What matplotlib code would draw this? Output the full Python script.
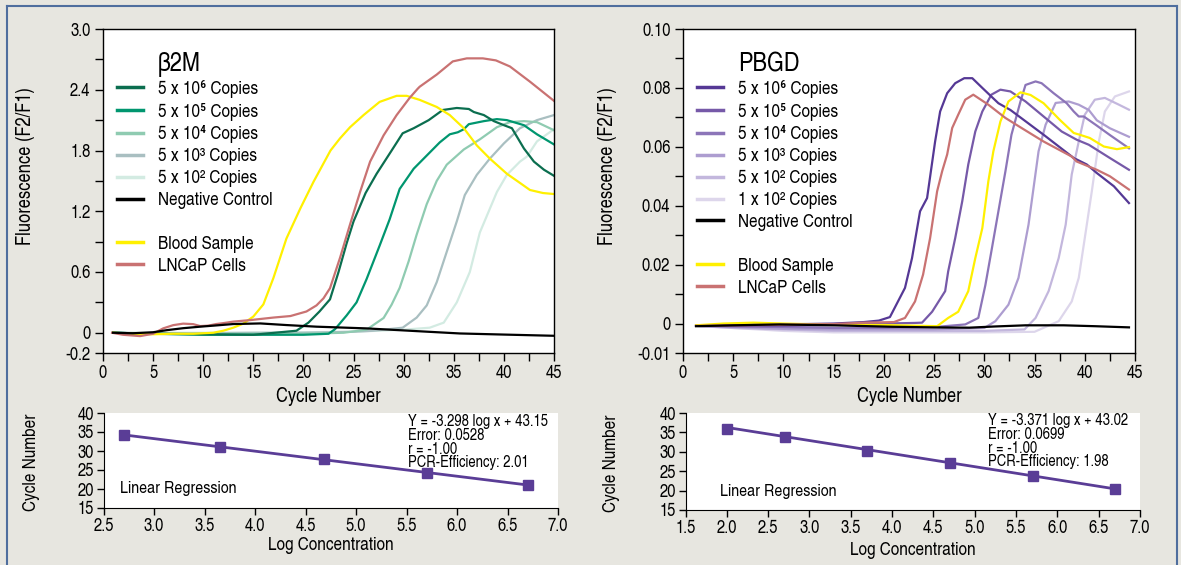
import matplotlib
matplotlib.use('Agg')
import matplotlib.pyplot as plt
from matplotlib.lines import Line2D
import numpy as np

FONT = ['TeX Gyre Heros Cn', 'Roboto Condensed', 'DejaVu Sans']
plt.rcParams['font.family'] = FONT

W, H = 1181, 565
BG = '#e7e6e0'
FRAME = '#4f6e9e'

# ---------------- beta2M (left) amplification curves ----------------
b_std_labels = ['5 x 10\u2076 Copies', '5 x 10\u2075 Copies', '5 x 10\u2074 Copies',
                '5 x 10\u00b3 Copies', '5 x 10\u00b2 Copies']
b_std_colors = ['#0b6e4f', '#00966f', '#8fcbb1', '#a9bfc1', '#d3ebe2']

b_5e6_cyc = [1, 5, 10, 15, 19.3, 20.5, 21.6, 22.65, 23.5, 24.3, 25.0, 26.2, 27.3, 28.8, 29.9, 31.0,
             32.5, 33.9, 35.3, 36.5, 37.0, 38.0, 39.0, 40.0, 40.8, 42.0, 43.0, 44.0, 45]
b_5e6_val = [0, -0.01, -0.015, -0.02, 0.02, 0.1, 0.21, 0.33, 0.6, 0.88, 1.1, 1.38, 1.57, 1.8, 1.97, 2.02,
             2.1, 2.2, 2.22, 2.21, 2.18, 2.15, 2.09, 2.05, 2.02, 1.82, 1.69, 1.61, 1.55]
b_5e5_cyc = [1, 5, 10, 15, 20, 22.5, 23.15, 24.3, 25.3, 26.3, 27.6, 28.6, 29.6, 31.0, 32.3, 33.6,
             34.6, 35.4, 36.0, 36.5, 38.0, 39.3, 40.3, 42.0, 43.3, 45]
b_5e5_val = [0, -0.01, -0.02, -0.02, -0.02, -0.01, 0.035, 0.17, 0.30, 0.53, 0.86, 1.12, 1.42, 1.62, 1.75, 1.88,
             1.96, 1.98, 2.01, 2.06, 2.09, 2.11, 2.10, 2.05, 1.96, 1.86]
b_5e4_cyc = [1, 5, 10, 15, 20, 24, 26.3, 28.0, 28.8, 29.6, 30.5, 31.3, 32.3, 33.3, 34.3, 36.0,
             37.6, 39.3, 40.6, 42.0, 43.3, 45]
b_5e4_val = [0, -0.01, -0.01, -0.01, -0.01, 0.0, 0.03, 0.146, 0.278, 0.443, 0.706, 0.97, 1.27, 1.50, 1.66, 1.81,
             1.91, 2.03, 2.08, 2.09, 2.08, 2.0]
b_5e3_cyc = [1, 5, 10, 15, 20, 25, 27, 29.9, 31.3, 32.3, 33.3, 34.3, 35.3, 36.1, 37.3, 38.6,
             40.0, 41.6, 43.3, 45]
b_5e3_val = [0, -0.005, -0.005, 0, 0, 0.01, 0.02, 0.05, 0.15, 0.27, 0.50, 0.80, 1.10, 1.36, 1.56, 1.72,
             1.87, 2.02, 2.10, 2.15]
b_5e2_cyc = [1, 5, 10, 15, 20, 25, 30, 32.6, 34.0, 35.3, 36.6, 37.6, 38.45, 39.3, 40.3, 41.6,
             42.3, 43.3, 45]
b_5e2_val = [0, 0, 0, 0, 0.005, 0.01, 0.03, 0.05, 0.10, 0.30, 0.60, 0.99, 1.19, 1.39, 1.56, 1.69,
             1.74, 1.89, 2.01]
b_neg_cyc = [1, 3, 5, 6.4, 8, 9.7, 11, 13, 15.7, 18.3, 21.3, 26.3, 31.3, 35.6, 40, 45]
b_neg_val = [0, -0.005, 0.005, 0.026, 0.045, 0.06, 0.07, 0.086, 0.092, 0.076, 0.06, 0.043, 0.016,
             -0.007, -0.018, -0.03]
b_blood_cyc = [1, 3, 5, 7, 9, 11, 12, 13, 14, 15, 16, 17, 18.3, 19.7, 21, 22.7, 23.65, 24.65, 26,
               27.6, 29.3, 30.3, 31.6, 33.3, 34.6, 36, 37.3, 38.6, 40.3, 41.6, 42.6, 43.9, 45]
b_blood_val = [0, -0.01, -0.015, -0.01, -0.01, 0, 0.02, 0.05, 0.09, 0.16, 0.28, 0.54, 0.93, 1.23, 1.49,
               1.8, 1.92, 2.03, 2.15, 2.28, 2.34, 2.34, 2.30, 2.23, 2.15, 2.02, 1.85, 1.72, 1.57,
               1.48, 1.41, 1.38, 1.37]
b_lncap_cyc = [0.9, 2, 3.7, 5, 6, 7, 8, 9, 9.7, 10.5, 11.3, 12, 13, 14.7, 17, 18.7, 20.3, 21.3, 22,
               22.65, 23.65, 24.65, 25.65, 26.65, 28, 29.3, 30.6, 31.4, 31.6, 33.3, 34.9, 36.3,
               37.9, 39.2, 40.6, 42.6, 45]
b_lncap_val = [0, -0.02, -0.033, -0.01, 0.043, 0.075, 0.09, 0.085, 0.066, 0.07, 0.086, 0.095, 0.11,
               0.125, 0.15, 0.165, 0.21, 0.27, 0.34, 0.44, 0.74, 1.07, 1.39, 1.69, 1.95, 2.15, 2.32,
               2.41, 2.43, 2.55, 2.68, 2.71, 2.71, 2.69, 2.63, 2.48, 2.29]

b_std_cyc = [b_5e6_cyc, b_5e5_cyc, b_5e4_cyc, b_5e3_cyc, b_5e2_cyc]
b_std_val = [b_5e6_val, b_5e5_val, b_5e4_val, b_5e3_val, b_5e2_val]

# ---------------- PBGD (right) amplification curves ----------------
p_std_labels = ['5 x 10\u2076 Copies', '5 x 10\u2075 Copies', '5 x 10\u2074 Copies',
                '5 x 10\u00b3 Copies', '5 x 10\u00b2 Copies', '1 x 10\u00b2 Copies']
p_std_colors = ['#553895', '#7659a8', '#8c75b8', '#ad9dd0', '#c3b7dd', '#ddd6eb']

p_5e6_cyc = [1.3, 5, 10, 15, 18, 19.5, 20.6, 22.1, 22.8, 23.6, 24.3, 25.1, 25.6, 26.3, 27.1, 28.0,
             28.8, 29.8, 31.4, 32.6, 35.9, 38.9, 40.2, 41.2, 42.9, 44.4]
p_5e6_val = [-0.0008, -0.0005, -0.0003, 0.0, 0.0005, 0.001, 0.0022, 0.0121, 0.0222, 0.0381, 0.0426,
             0.0618, 0.072, 0.0782, 0.0816, 0.0833, 0.0833, 0.080, 0.0748, 0.0725, 0.0641, 0.0562,
             0.054, 0.0511, 0.0466, 0.0409]
p_5e5_cyc = [1.3, 5, 10, 15, 20, 23, 23.8, 24.8, 26.1, 26.4, 27.1, 27.8, 28.4, 29.1, 29.8, 30.7,
             31.6, 32.6, 34.1, 35.9, 37.7, 39.2, 40.4, 42.5, 44.4]
p_5e5_val = [-0.0008, -0.0008, -0.0008, -0.0005, 0.0, 0.0002, 0.0003, 0.004, 0.011, 0.0177, 0.029,
             0.0415, 0.054, 0.0652, 0.072, 0.0777, 0.0794, 0.0788, 0.0754, 0.0703, 0.0652, 0.0624,
             0.0607, 0.0562, 0.0522]
p_5e4_cyc = [1.3, 5, 10, 15, 20, 25, 28.1, 29.4, 30.1, 30.7, 31.4, 32.1, 32.7, 33.6, 34.1, 35.1,
             35.7, 36.9, 38.2, 38.9, 39.4, 39.9, 41.2, 42.5, 44.4]
p_5e4_val = [-0.0008, -0.001, -0.0012, -0.0015, -0.0015, -0.0012, -0.0003, 0.0019, 0.013, 0.0245,
             0.0381, 0.0517, 0.0641, 0.0754, 0.081, 0.0822, 0.0816, 0.0782, 0.0748, 0.072, 0.0703,
             0.0703, 0.0672, 0.064, 0.0595]
p_5e3_cyc = [1.3, 5, 10, 15, 20, 25, 30, 31.1, 32.4, 33.4, 34.4, 35.4, 36.1, 37.1, 38.4, 39.4,
             40.4, 41.2, 42.5, 44.4]
p_5e3_val = [-0.0008, -0.0012, -0.0018, -0.002, -0.002, -0.002, -0.0015, 0.0008, 0.0064, 0.0155,
             0.0336, 0.0585, 0.0675, 0.0749, 0.0754, 0.0743, 0.0725, 0.069, 0.0663, 0.0634]
p_5e2_cyc = [1.3, 5, 10, 15, 20, 25, 30, 34, 35.1, 36.4, 37.4, 38.1, 38.7, 39.4, 40.0, 41.0, 42.0,
             43.4, 44.4]
p_5e2_val = [-0.0008, -0.0015, -0.002, -0.0025, -0.0025, -0.0025, -0.0025, -0.002, 0.0019, 0.011,
             0.0222, 0.0336, 0.0506, 0.0618, 0.0709, 0.076, 0.0766, 0.0743, 0.0726]
p_1e2_cyc = [1.3, 5, 10, 15, 20, 25, 30, 35, 37.4, 38.7, 39.4, 40.0, 40.7, 41.4, 42.0, 43.0, 44.4]
p_1e2_val = [-0.0008, -0.0015, -0.0025, -0.003, -0.003, -0.003, -0.003, -0.0028, 0.0008, 0.0075,
             0.0155, 0.029, 0.0449, 0.0618, 0.072, 0.0771, 0.0788]
p_neg_cyc = [1.3, 5, 9.6, 15, 20.9, 25, 28.5, 31, 34.1, 37.9, 41, 44.4]
p_neg_val = [-0.0009, -0.0006, -0.0003, -0.0006, -0.0011, -0.0013, -0.0014, -0.001, -0.0006,
             -0.0006, -0.0009, -0.0013]
p_blood_cyc = [1.3, 4, 7, 10, 15, 20, 24, 25.3, 26.4, 27.4, 28.4, 29.1, 29.8, 30.4, 30.9, 31.6,
               32.4, 33.6, 34.6, 35.9, 37.5, 38.9, 39.5, 40.5, 41.9, 43.2, 44.4]
p_blood_val = [-0.0006, 0.0, 0.0003, 0.0, -0.0004, -0.0005, -0.0008, -0.0009, 0.0019, 0.004, 0.011,
               0.0222, 0.0324, 0.0483, 0.0585, 0.0686, 0.0754, 0.0785, 0.0776, 0.0748, 0.0692,
               0.0647, 0.0641, 0.063, 0.0601, 0.0592, 0.0599]
p_lncap_cyc = [1.3, 5, 10, 15, 18, 21, 22.1, 23.1, 23.9, 24.6, 25.3, 25.8, 26.3, 26.8, 27.4, 28.1,
               28.9, 30.4, 32.1, 33.7, 35.9, 38.7, 39.2, 41.2, 42.5, 44.4]
p_lncap_val = [-0.0008, -0.0006, -0.0004, -0.0002, 0.0003, 0.0005, 0.0019, 0.0075, 0.0166, 0.029,
               0.0449, 0.0517, 0.0574, 0.0664, 0.0709, 0.076, 0.0777, 0.0743, 0.0698, 0.0664,
               0.0618, 0.0567, 0.055, 0.0522, 0.05, 0.0455]

p_std_cyc = [p_5e6_cyc, p_5e5_cyc, p_5e4_cyc, p_5e3_cyc, p_5e2_cyc, p_1e2_cyc]
p_std_val = [p_5e6_val, p_5e5_val, p_5e4_val, p_5e3_val, p_5e2_val, p_1e2_val]

# ---------------- standard curves (regression) ----------------
b_log = [2.7, 3.65, 4.68, 5.7, 6.7]
b_ct = [34.3, 31.0, 27.9, 24.3, 21.1]
b_slope, b_icpt = -3.298, 43.15
b_fit_text = 'Y = -3.298 log x + 43.15\nError: 0.0528\nr = -1.00\nPCR-Efficiency: 2.01'

p_log = [2.0, 2.7, 3.7, 4.7, 5.7, 6.7]
p_ct = [36.0, 33.9, 30.3, 27.1, 23.8, 20.4]
p_slope, p_icpt = -3.371, 43.02
p_fit_text = 'Y = -3.371 log x + 43.02\nError: 0.0699\nr = -1.00\nPCR-Efficiency: 1.98'

BLOOD = '#fff000'
LNCAP = '#c97272'
REG = '#5a3d96'
LW = 1.6


def fax(l, t, r, b):
    return fig.add_axes([l / W, 1 - b / H, (r - l) / W, (b - t) / H])


fig = plt.figure(figsize=(W / 100, H / 100), dpi=100, facecolor=BG)

# frame
fig.add_artist(Line2D([7 / W, 1177 / W], [1 - 6 / H, 1 - 6 / H], color=FRAME, lw=1.5))
fig.add_artist(Line2D([7 / W, 7 / W], [0, 1 - 6 / H], color=FRAME, lw=1.5))
fig.add_artist(Line2D([1177 / W, 1177 / W], [0, 1 - 6 / H], color=FRAME, lw=1.5))


def amp_panel(ax, std_cyc, std_val, std_lab, std_col, neg, blood, lncap, title):
    for c, v, col in reversed(list(zip(std_cyc, std_val, std_col))):
        ax.plot(c, v, color=col, lw=LW)
    ax.plot(blood[0], blood[1], color=BLOOD, lw=LW)
    ax.plot(lncap[0], lncap[1], color=LNCAP, lw=LW)
    ax.plot(neg[0], neg[1], color='black', lw=LW)
    handles = [Line2D([], [], color=col, lw=2.5) for col in std_col]
    labels = list(std_lab)
    handles += [Line2D([], [], color='black', lw=2.5), Line2D([], [], color='none'),
                Line2D([], [], color=BLOOD, lw=2.5), Line2D([], [], color=LNCAP, lw=2.5)]
    labels += ['Negative Control', ' ', 'Blood Sample', 'LNCaP Cells']
    ax.legend(handles, labels, loc='upper left', bbox_to_anchor=(0.03, 0.843), frameon=False,
              fontsize=13.5, handlelength=1.4, handletextpad=0.8, labelspacing=0.255,
              borderpad=0, borderaxespad=0)
    ax.text(0.122, 0.89, title, transform=ax.transAxes, fontsize=19, va='center', ha='left')
    ax.set_xlim(0, 45)
    ax.set_xticks(np.arange(0, 45.1, 2.5))
    ax.set_xticklabels([str(int(t)) if t % 5 == 0 else '' for t in np.arange(0, 45.1, 2.5)])
    ax.tick_params(direction='out', length=6, width=1, labelsize=13, pad=3)
    ax.set_xlabel('Cycle Number', fontsize=14.5)
    ax.xaxis.set_label_coords(0.5, -0.105)
    ax.set_ylabel('Fluorescence (F2/F1)', fontsize=14.5)
    for s in ax.spines.values():
        s.set_linewidth(1)


axL = fax(103, 29, 554, 353)
amp_panel(axL, b_std_cyc, b_std_val, b_std_labels, b_std_colors,
          (b_neg_cyc, b_neg_val), (b_blood_cyc, b_blood_val), (b_lncap_cyc, b_lncap_val), '\u03b22M')
axL.set_ylim(-0.2, 3.0)
yt = [-0.2, 0, 0.3, 0.6, 0.9, 1.2, 1.5, 1.8, 2.1, 2.4, 2.7, 3.0]
axL.set_yticks(yt)
axL.set_yticklabels(['-0.2', '0', '', '0.6', '', '1.2', '', '1.8', '', '2.4', '', '3.0'])
axL.yaxis.set_label_coords(-0.151, 0.577)

axR = fax(683, 29, 1135, 353)
amp_panel(axR, p_std_cyc, p_std_val, p_std_labels, p_std_colors,
          (p_neg_cyc, p_neg_val), (p_blood_cyc, p_blood_val), (p_lncap_cyc, p_lncap_val), 'PBGD')
axR.set_ylim(-0.01, 0.10)
yt = np.round(np.arange(-0.01, 0.1001, 0.01), 3)
axR.set_yticks(yt)
axR.set_yticklabels(['-0.01', '0', '', '0.02', '', '0.04', '', '0.06', '', '0.08', '', '0.10'])
axR.yaxis.set_label_coords(-0.146, 0.577)


def reg_panel(ax, xs, ys, slope, icpt, txt, xmin, tx, ty, lx, ly):
    xl = np.array([xs[0], xs[-1]])
    ax.plot(xl, slope * xl + icpt, color=REG, lw=2)
    ax.plot(xs, ys, 's', color=REG, ms=6.5)
    ax.set_xlim(xmin, 7.0)
    ax.set_ylim(15, 40)
    ax.set_xticks(np.arange(xmin, 7.01, 0.5))
    ax.set_xticklabels(['%.1f' % t for t in np.arange(xmin, 7.01, 0.5)])
    ax.set_yticks([15, 20, 25, 30, 35, 40])
    for s in ['top', 'right']:
        ax.spines[s].set_visible(False)
    ax.tick_params(direction='out', length=5, width=1, labelsize=13, pad=2)
    ax.text(tx, ty, txt, transform=ax.transAxes, fontsize=11.5, va='top', ha='left', linespacing=0.9)
    ax.text(lx, ly, 'Linear Regression', transform=ax.transAxes,
            fontsize=12.5, va='center', ha='left')
    ax.set_xlabel('Log Concentration', fontsize=13.5)
    ax.set_ylabel('Cycle Number', fontsize=13.5)


axBL = fax(103.5, 413, 558, 508)
reg_panel(axBL, b_log, b_ct, b_slope, b_icpt, b_fit_text, 2.5, 0.671, 0.99, 0.036, 0.2)
axBL.yaxis.set_label_coords(-0.14, 0.484)
axBL.xaxis.set_label_coords(0.5, -0.31)

axBR = fax(685.5, 413, 1140, 510)
reg_panel(axBR, p_log, p_ct, p_slope, p_icpt, p_fit_text, 1.5, 0.665, 1.0, 0.077, 0.189)
axBR.yaxis.set_label_coords(-0.144, 0.484)
axBR.xaxis.set_label_coords(0.5, -0.33)

fig.savefig('out.png', dpi=100, facecolor=BG)
